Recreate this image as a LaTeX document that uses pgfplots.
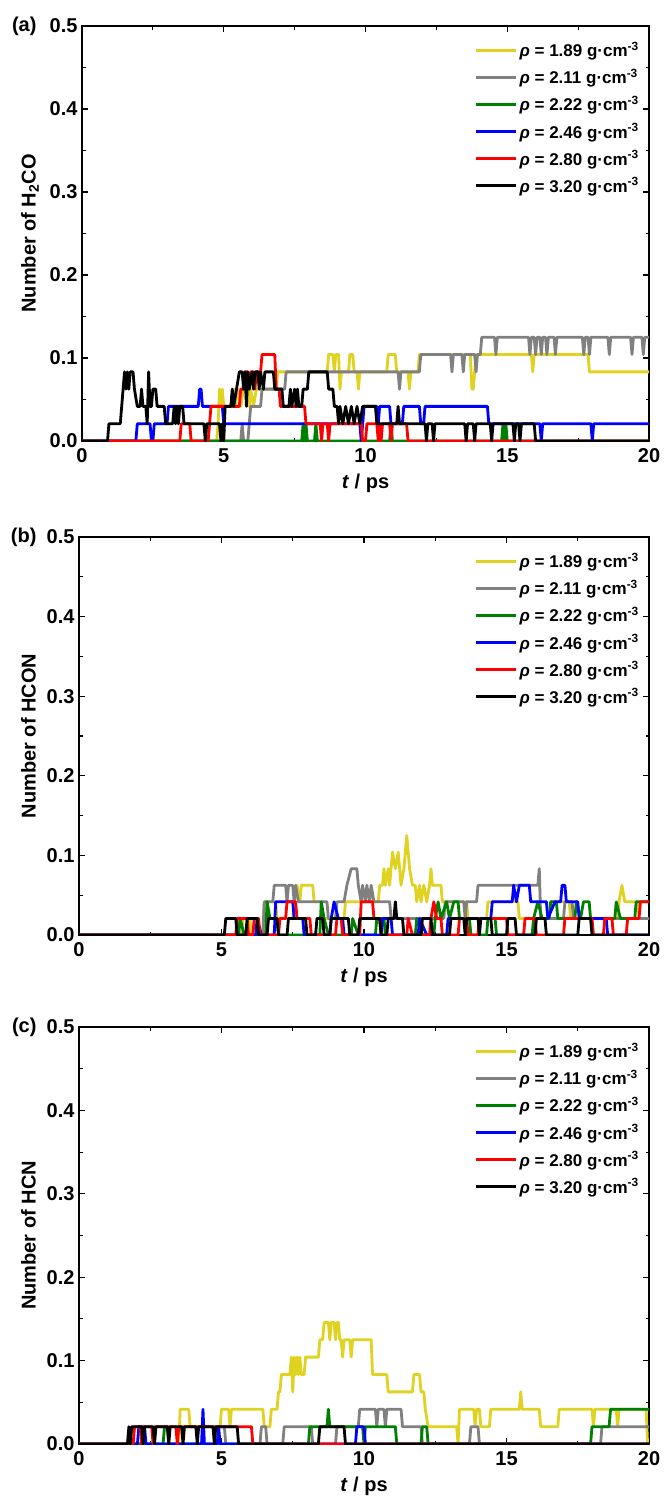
\documentclass[border=0pt]{standalone}
\usepackage{pgfplots}
\pgfplotsset{compat=1.18}
\usepackage{fontspec}
\setmainfont{Liberation Sans}
\definecolor{cyel}{RGB}{224,210,32}
\definecolor{cgray}{RGB}{128,128,128}
\definecolor{cgreen}{RGB}{0,128,0}
\definecolor{cblue}{RGB}{0,0,255}
\definecolor{cred}{RGB}{255,0,0}
\pgfplotsset{
 panel/.style={
  scale only axis, anchor=south west,
  xmin=0,xmax=20,ymin=0,ymax=0.5,
  xtick={0,5,10,15,20}, ytick={0,0.1,0.2,0.3,0.4,0.5},
  minor x tick num=1, minor y tick num=1,
  tick align=inside, major tick length=6pt, minor tick length=3.5pt,
  axis line style={line width=1.1pt},
  tick style={line width=1.1pt, black},
  tick label style={font=\fontsize{20}{22}\selectfont\bfseries, /pgf/number format/assume math mode=true},
  xticklabel style={yshift=-4pt},
  yticklabel style={xshift=-1pt, /pgf/number format/.cd, fixed, fixed zerofill, precision=1},
  label style={font=\fontsize{20}{22}\selectfont\bfseries},
  xlabel={\textit{t} / ps},
  xlabel style={yshift=-4pt},
  ylabel shift=4pt,
  legend cell align=left,
  legend style={at={(1,1)}, anchor=north east, xshift=-8pt, yshift=-14pt, draw=none, fill=none, font=\fontsize{17}{19}\selectfont\bfseries, row sep=7pt, inner sep=0pt},
  legend image code/.code={\draw[#1, line width=3pt] (0pt,0pt) -- (40pt,0pt);},
  every axis plot/.append style={line width=2.8pt, line join=round},
 }
}
\begin{document}
\begin{tikzpicture}
\path[use as bounding box] (0,0) rectangle (664pt,-1504pt);
% ---------------- (a)
\begin{axis}[panel, name=pa, at={(82pt,-441pt)}, width=567pt, height=415pt, ylabel={Number of H\textsubscript{2}CO}]
\addplot[cyel] coordinates {(0,0)(4.75,0)(4.8,0.0208)(4.85,0.0625)(4.9,0.0417)(4.95,0.0625)(5.0,0.0417)(5.3,0.0417)(5.35,0.0625)(5.4,0.0417)(5.5,0.0625)(5.6,0.0417)(5.7,0.0625)(5.85,0.0625)(5.9,0.0417)(5.95,0.0625)(6.05,0.0417)(6.15,0.0625)(6.85,0.0625)(6.9,0.0833)(8.65,0.0833)(8.7,0.1042)(8.85,0.1042)(8.9,0.0833)(8.95,0.1042)(9.05,0.1042)(9.1,0.0625)(9.15,0.0833)(9.4,0.0833)(9.45,0.1042)(9.55,0.1042)(9.6,0.0833)(9.7,0.0833)(9.75,0.0625)(9.8,0.0833)(10.75,0.0833)(10.8,0.1042)(11.05,0.1042)(11.1,0.0833)(11.5,0.0833)(11.55,0.0625)(11.6,0.0833)(11.85,0.0833)(11.9,0.1042)(13.7,0.1042)(13.75,0.0625)(13.8,0.0625)(13.85,0.0833)(13.9,0.1042)(15.85,0.1042)(15.9,0.0833)(15.95,0.1042)(17.85,0.1042)(17.9,0.0833)(20,0.0833)};
\addlegendentry{\textit{ρ} = 1.89 g·cm\textsuperscript{-3}}
\addplot[cgray] coordinates {(0,0)(5.6,0)(5.65,0.0208)(5.7,0)(5.85,0)(5.9,0.0208)(5.95,0.0417)(6.3,0.0417)(6.35,0.0625)(7.15,0.0625)(7.2,0.0833)(11.15,0.0833)(11.2,0.0625)(11.25,0.0833)(11.9,0.0833)(11.95,0.1042)(13.0,0.1042)(13.05,0.0833)(13.1,0.1042)(13.4,0.1042)(13.45,0.0833)(13.5,0.1042)(13.85,0.1042)(13.9,0.0833)(13.95,0.1042)(14.05,0.1042)(14.1,0.125)(14.55,0.125)(14.6,0.1042)(14.65,0.125)(15.75,0.125)(15.8,0.1042)(15.85,0.125)(15.95,0.125)(16.0,0.1042)(16.05,0.125)(16.15,0.125)(16.2,0.1042)(16.25,0.125)(16.35,0.125)(16.4,0.1042)(16.45,0.125)(16.65,0.125)(16.7,0.1042)(16.75,0.125)(17.65,0.125)(17.7,0.1042)(17.75,0.125)(17.85,0.125)(17.9,0.1042)(17.95,0.125)(18.55,0.125)(18.6,0.1042)(18.65,0.125)(19.35,0.125)(19.4,0.1042)(19.45,0.125)(19.75,0.125)(19.8,0.1042)(19.85,0.125)(20,0.125)};
\addlegendentry{\textit{ρ} = 2.11 g·cm\textsuperscript{-3}}
\addplot[cgreen] coordinates {(0,0)(7.75,0)(7.8,0.0208)(7.85,0)(7.9,0.0208)(7.95,0)(8.2,0)(8.25,0.0208)(8.3,0)(10.85,0)(10.9,0.0208)(10.95,0)(14.8,0)(14.85,0.0208)(14.9,0)(14.95,0.0208)(15.0,0)(20,0)};
\addlegendentry{\textit{ρ} = 2.22 g·cm\textsuperscript{-3}}
\addplot[cblue] coordinates {(0,0)(1.9,0)(1.95,0.0208)(2.4,0.0208)(2.45,0)(2.5,0)(2.55,0.0208)(3.0,0.0208)(3.05,0.0417)(4.1,0.0417)(4.15,0.0625)(4.2,0.0625)(4.25,0.0417)(4.95,0.0417)(5.0,0.0208)(9.8,0.0208)(9.85,0)(9.9,0.0208)(9.95,0.0417)(10.4,0.0417)(10.45,0.0208)(10.5,0.0417)(10.85,0.0417)(10.9,0.0208)(11.3,0.0208)(11.35,0.0417)(11.9,0.0417)(11.95,0.0208)(12.05,0.0208)(12.1,0.0417)(14.3,0.0417)(14.35,0.0208)(16.15,0.0208)(16.2,0)(16.25,0.0208)(17.95,0.0208)(18.0,0)(18.05,0.0208)(20,0.0208)};
\addlegendentry{\textit{ρ} = 2.46 g·cm\textsuperscript{-3}}
\addplot[cred] coordinates {(0,0)(3.45,0)(3.5,0.0208)(3.8,0.0208)(3.85,0)(4.45,0)(4.5,0.0208)(4.55,0.0417)(5.55,0.0417)(5.6,0.0625)(5.7,0.0625)(5.75,0.0833)(5.85,0.0833)(5.9,0.0625)(5.95,0.0833)(6.05,0.0833)(6.1,0.0625)(6.15,0.0833)(6.3,0.0833)(6.35,0.1042)(6.8,0.1042)(6.85,0.0625)(6.95,0.0625)(7.0,0.0417)(7.85,0.0417)(7.9,0.0208)(8.4,0.0208)(8.45,0)(8.5,0.0208)(8.65,0.0208)(8.7,0)(8.75,0.0208)(9.85,0.0208)(9.9,0)(10.0,0)(10.05,0.0208)(10.4,0.0208)(10.45,0)(10.5,0.0208)(10.55,0)(10.6,0.0208)(10.85,0.0208)(10.9,0)(10.95,0.0208)(11.45,0.0208)(11.5,0)(20,0)};
\addlegendentry{\textit{ρ} = 2.80 g·cm\textsuperscript{-3}}
\addplot[black] coordinates {(0,0)(0.9,0)(0.95,0.0208)(1.35,0.0208)(1.45,0.0625)(1.5,0.0833)(1.55,0.0625)(1.6,0.0833)(1.65,0.0625)(1.7,0.0833)(1.8,0.0833)(1.85,0.0625)(1.95,0.0417)(2.05,0.0417)(2.1,0.0625)(2.15,0.0417)(2.25,0.0417)(2.3,0.0208)(2.35,0.0833)(2.4,0.0417)(2.45,0.0417)(2.5,0.0625)(2.6,0.0625)(2.65,0.0417)(2.9,0.0417)(2.95,0.0208)(3.2,0.0208)(3.25,0.0417)(3.3,0.0208)(3.35,0.0417)(3.4,0.0208)(3.45,0.0417)(3.55,0.0417)(3.6,0.0208)(4.3,0.0208)(4.35,0)(4.4,0.0208)(4.85,0.0208)(4.9,0)(4.95,0.0208)(5.0,0)(5.05,0.0417)(5.25,0.0417)(5.3,0.0625)(5.35,0.0417)(5.45,0.0625)(5.55,0.0833)(5.65,0.0833)(5.7,0.0625)(5.75,0.0833)(5.8,0.0417)(5.85,0.0833)(5.9,0.0625)(6.0,0.0833)(6.05,0.0625)(6.1,0.0833)(6.2,0.0833)(6.25,0.0625)(6.3,0.0833)(6.4,0.0625)(6.45,0.0833)(6.75,0.0833)(6.8,0.0625)(7.05,0.0625)(7.1,0.0417)(7.3,0.0417)(7.35,0.0625)(7.4,0.0417)(7.5,0.0625)(7.55,0.0417)(7.6,0.0625)(7.65,0.0417)(7.75,0.0417)(7.8,0.0625)(7.95,0.0625)(8.0,0.0833)(8.65,0.0833)(8.7,0.0625)(8.85,0.0625)(8.9,0.0417)(9.0,0.0417)(9.05,0.0208)(9.1,0.0417)(9.2,0.0208)(9.3,0.0417)(9.4,0.0208)(9.5,0.0417)(9.6,0.0208)(9.7,0.0417)(9.8,0.0208)(9.9,0.0417)(10.35,0.0417)(10.4,0.0208)(11.1,0.0208)(11.15,0.0417)(11.2,0.0208)(12.1,0.0208)(12.15,0)(12.2,0.0208)(12.35,0.0208)(12.4,0)(12.45,0.0208)(13.5,0.0208)(13.55,0)(13.6,0.0208)(13.8,0.0208)(13.85,0)(13.9,0.0208)(14.4,0.0208)(14.45,0)(14.5,0.0208)(15.2,0.0208)(15.25,0)(15.3,0.0208)(15.4,0.0208)(15.45,0)(15.5,0.0208)(15.95,0.0208)(16.0,0)(20,0)};
\addlegendentry{\textit{ρ} = 3.20 g·cm\textsuperscript{-3}}
\end{axis}
\node[anchor=east, font=\fontsize{20}{22}\selectfont\bfseries] at ([xshift=-42pt]pa.north west) {(a)};
% ---------------- (b)
\begin{axis}[panel, name=pb, at={(79pt,-935pt)}, width=570pt, height=398pt, ylabel={Number of HCON}]
\addplot[cyel] coordinates {(0,0)(5.7,0)(5.75,0.0208)(6.0,0.0208)(6.05,0)(6.45,0)(6.5,0.0417)(6.9,0.0417)(6.95,0.0208)(7.5,0.0208)(7.55,0.0417)(7.65,0.0625)(7.75,0.0417)(7.8,0.0625)(8.2,0.0625)(8.25,0.0417)(8.5,0.0417)(8.55,0.0208)(9.3,0.0208)(9.35,0.0417)(10.5,0.0417)(10.55,0.0625)(10.65,0.0625)(10.7,0.0833)(10.75,0.0625)(10.85,0.0833)(10.9,0.0625)(11.0,0.1042)(11.1,0.0833)(11.2,0.1042)(11.3,0.0625)(11.4,0.0833)(11.5,0.125)(11.6,0.0833)(11.7,0.0625)(11.8,0.0625)(11.85,0.0417)(11.95,0.0625)(12.0,0.0417)(12.1,0.0625)(12.2,0.0417)(12.3,0.0625)(12.35,0.0833)(12.4,0.0625)(12.7,0.0625)(12.75,0.0417)(13.6,0.0417)(13.65,0.0208)(14.3,0.0208)(14.35,0.0417)(15.4,0.0417)(15.45,0.0208)(16.5,0.0208)(16.55,0.0417)(17.2,0.0417)(17.25,0.0208)(18.9,0.0208)(18.95,0.0417)(19.05,0.0625)(19.15,0.0417)(19.6,0.0417)(19.65,0.0208)(20,0.0208)};
\addlegendentry{\textit{ρ} = 1.89 g·cm\textsuperscript{-3}}
\addplot[cgray] coordinates {(0,0)(6.45,0)(6.5,0.0417)(6.8,0.0417)(6.85,0.0625)(7.25,0.0625)(7.3,0.0417)(7.35,0.0625)(7.5,0.0625)(7.55,0.0417)(7.6,0.0625)(7.7,0.0417)(8.7,0.0417)(8.75,0.0208)(9.0,0.0208)(9.05,0.0417)(9.3,0.0417)(9.4,0.0625)(9.55,0.0833)(9.75,0.0833)(9.8,0.0625)(9.9,0.0417)(9.95,0.0625)(10.05,0.0417)(10.1,0.0625)(10.2,0.0417)(10.25,0.0625)(10.35,0.0417)(10.9,0.0417)(10.95,0.0208)(12.8,0.0208)(12.85,0.0417)(13.5,0.0417)(13.55,0.0208)(13.6,0.0417)(13.95,0.0417)(14.0,0.0625)(16.1,0.0625)(16.15,0.0833)(16.2,0.0208)(17.0,0.0208)(17.05,0.0417)(17.3,0.0417)(17.35,0.0208)(20,0.0208)};
\addlegendentry{\textit{ρ} = 2.11 g·cm\textsuperscript{-3}}
\addplot[cgreen] coordinates {(0,0)(5.6,0)(5.65,0.0208)(5.8,0)(6.55,0)(6.6,0.0417)(6.7,0.0208)(6.95,0.0208)(7.0,0)(8.45,0)(8.5,0.0417)(8.6,0.0208)(8.75,0)(9.55,0)(9.6,0.0208)(9.8,0)(10.4,0)(10.45,0.0208)(10.7,0.0208)(10.75,0)(11.8,0)(11.85,0.0208)(12.05,0)(12.45,0)(12.5,0.0208)(12.6,0.0417)(12.7,0.0208)(12.9,0.0417)(13.0,0.0208)(13.15,0.0417)(13.3,0.0417)(13.35,0.0208)(13.7,0.0208)(13.75,0)(14.3,0)(14.35,0.0208)(14.6,0.0208)(14.65,0)(15.9,0)(15.95,0.0208)(16.1,0.0417)(16.25,0.0208)(16.5,0.0208)(16.55,0.0417)(16.75,0.0417)(16.8,0.0208)(17.4,0.0208)(17.45,0.0417)(17.6,0.0208)(17.7,0.0417)(17.9,0.0417)(17.95,0.0208)(18.8,0.0208)(18.85,0.0417)(19.0,0.0208)(19.5,0.0208)(19.55,0.0417)(20,0.0417)};
\addlegendentry{\textit{ρ} = 2.22 g·cm\textsuperscript{-3}}
\addplot[cblue] coordinates {(0,0)(6.2,0)(6.25,0.0208)(6.4,0)(6.85,0)(6.9,0.0417)(7.5,0.0417)(7.55,0.0208)(7.85,0.0208)(7.9,0)(8.8,0)(8.85,0.0208)(8.95,0.0417)(9.1,0.0208)(9.25,0.0208)(9.3,0)(10.6,0)(10.65,0.0208)(10.95,0.0208)(11.0,0)(11.9,0)(11.95,0.0208)(12.2,0)(12.9,0)(12.95,0.0208)(14.45,0.0208)(14.5,0.0417)(15.2,0.0417)(15.25,0.0625)(15.35,0.0417)(15.45,0.0625)(15.8,0.0625)(15.85,0.0417)(16.4,0.0417)(16.45,0.0208)(16.7,0.0417)(16.9,0.0417)(16.95,0.0625)(17.05,0.0625)(17.1,0.0417)(17.5,0.0417)(17.55,0.0208)(18.5,0.0208)(18.55,0)(20,0)};
\addlegendentry{\textit{ρ} = 2.46 g·cm\textsuperscript{-3}}
\addplot[cred] coordinates {(0,0)(5.5,0)(5.55,0.0208)(5.9,0.0208)(5.95,0)(6.1,0)(6.15,0.0208)(6.3,0.0208)(6.35,0)(7.0,0)(7.05,0.0208)(7.25,0.0208)(7.3,0.0417)(7.6,0.0417)(7.65,0.0208)(8.1,0.0208)(8.15,0)(9.0,0)(9.05,0.0208)(9.2,0.0208)(9.25,0)(9.85,0)(9.9,0.0417)(10.3,0.0417)(10.35,0.0208)(10.55,0.0208)(10.6,0)(11.5,0)(11.55,0.0208)(11.7,0)(12.3,0)(12.35,0.0208)(12.45,0.0417)(12.55,0.0208)(12.7,0.0208)(12.75,0)(13.3,0)(13.35,0.0208)(13.6,0.0208)(13.65,0)(14.0,0)(14.05,0.0208)(15.0,0.0208)(15.05,0)(15.6,0)(15.65,0.0208)(16.0,0.0208)(16.05,0)(17.0,0)(17.05,0.0208)(18.0,0.0208)(18.05,0)(18.4,0)(18.45,0.0208)(18.7,0.0208)(18.75,0)(19.2,0)(19.25,0.0208)(19.65,0.0208)(19.7,0.0417)(20,0.0417)};
\addlegendentry{\textit{ρ} = 2.80 g·cm\textsuperscript{-3}}
\addplot[black] coordinates {(0,0)(5.1,0)(5.15,0.0208)(5.5,0.0208)(5.55,0)(5.85,0)(5.9,0.0208)(6.25,0.0208)(6.3,0)(6.6,0)(6.65,0.0208)(6.95,0.0208)(7.0,0)(7.3,0)(7.35,0.0208)(7.95,0.0208)(8.0,0)(8.3,0)(8.35,0.0208)(8.55,0.0208)(8.6,0)(8.8,0)(8.85,0.0208)(9.45,0.0208)(9.5,0)(9.8,0)(9.85,0.0208)(10.55,0.0208)(10.6,0)(10.8,0)(10.85,0.0208)(11.05,0.0208)(11.1,0.0417)(11.15,0.0208)(11.35,0.0208)(11.4,0)(12.0,0)(12.05,0.0208)(12.35,0.0208)(12.4,0)(13.0,0)(13.05,0.0208)(13.5,0.0208)(13.55,0)(13.6,0.0208)(14.0,0.0208)(14.05,0)(14.1,0.0208)(14.45,0.0208)(14.5,0)(15.0,0)(15.05,0.0208)(15.3,0.0208)(15.35,0)(16.0,0)(16.05,0.0208)(16.35,0.0208)(16.4,0)(17.5,0)(17.55,0.0208)(17.95,0.0208)(18.0,0)(20,0)};
\addlegendentry{\textit{ρ} = 3.20 g·cm\textsuperscript{-3}}
\end{axis}
\node[anchor=east, font=\fontsize{20}{22}\selectfont\bfseries] at ([xshift=-39pt]pb.north west) {(b)};
% ---------------- (c)
\begin{axis}[panel, name=pc, at={(79pt,-1444pt)}, width=570pt, height=417pt, ylabel={Number of HCN}]
\addplot[cyel] coordinates {(0,0)(3.5,0)(3.55,0.0417)(3.85,0.0417)(3.9,0.0208)(4.95,0.0208)(5.0,0.0417)(5.25,0.0417)(5.3,0.0208)(5.35,0.0417)(6.45,0.0417)(6.5,0.0208)(6.7,0.0208)(6.75,0.0417)(6.95,0.0417)(7.0,0.0625)(7.05,0.0625)(7.1,0.0833)(7.4,0.0833)(7.45,0.1042)(7.5,0.0625)(7.55,0.1042)(7.6,0.0833)(7.65,0.1042)(7.7,0.0833)(7.75,0.1042)(7.8,0.0833)(7.9,0.0833)(7.95,0.1042)(8.4,0.1042)(8.45,0.125)(8.55,0.125)(8.6,0.1458)(8.75,0.1458)(8.8,0.125)(8.85,0.1458)(8.95,0.1458)(9.0,0.125)(9.05,0.1458)(9.1,0.1458)(9.15,0.125)(9.2,0.125)(9.25,0.1042)(9.3,0.125)(9.5,0.125)(9.55,0.1042)(9.6,0.125)(10.25,0.125)(10.3,0.0833)(10.8,0.0833)(10.85,0.0625)(11.7,0.0625)(11.75,0.0833)(11.95,0.0833)(12.0,0.0625)(12.1,0.0625)(12.15,0.0417)(12.25,0.0208)(13.25,0.0208)(13.3,0)(13.35,0.0417)(13.85,0.0417)(13.9,0.0208)(13.95,0.0417)(14.05,0.0417)(14.1,0.0208)(14.4,0.0208)(14.45,0.0417)(15.45,0.0417)(15.5,0.0625)(15.55,0.0417)(16.15,0.0417)(16.2,0.0208)(16.8,0.0208)(16.85,0.0417)(18.0,0.0417)(18.05,0.0208)(18.1,0.0417)(18.85,0.0417)(18.9,0.0208)(18.95,0.0417)(19.9,0.0417)(19.95,0)(20,0)};
\addlegendentry{\textit{ρ} = 1.89 g·cm\textsuperscript{-3}}
\addplot[cgray] coordinates {(0,0)(4.85,0)(4.9,0.0208)(5.1,0.0208)(5.15,0)(6.35,0)(6.4,0.0208)(6.55,0.0208)(6.6,0)(7.15,0)(7.2,0.0208)(8.15,0.0208)(8.2,0)(9.0,0)(9.05,0.0208)(9.8,0.0208)(9.85,0.0417)(10.4,0.0417)(10.45,0.0208)(10.5,0.0417)(10.7,0.0417)(10.75,0.0208)(10.8,0.0417)(11.3,0.0417)(11.35,0.0208)(12.0,0.0208)(12.05,0)(13.7,0)(13.75,0.0208)(14.0,0.0208)(14.05,0)(18.3,0)(18.35,0.0208)(20,0.0208)};
\addlegendentry{\textit{ρ} = 2.11 g·cm\textsuperscript{-3}}
\addplot[cgreen] coordinates {(0,0)(2.95,0)(3.0,0.0208)(3.1,0.0208)(3.15,0)(8.05,0)(8.1,0.0208)(8.7,0.0208)(8.75,0.0417)(8.8,0.0208)(9.95,0.0208)(10.0,0)(10.05,0.0208)(11.1,0.0208)(11.15,0)(12.0,0)(12.05,0.0208)(12.2,0.0208)(12.25,0)(17.95,0)(18.0,0.0208)(18.6,0.0208)(18.65,0.0417)(20,0.0417)};
\addlegendentry{\textit{ρ} = 2.22 g·cm\textsuperscript{-3}}
\addplot[cblue] coordinates {(0,0)(2.05,0)(2.1,0.0208)(2.3,0.0208)(2.35,0)(4.3,0)(4.35,0.0417)(4.4,0)(4.85,0)(4.9,0.0208)(4.95,0)(9.7,0)(9.75,0.0208)(10.0,0.0208)(10.05,0)(20,0)};
\addlegendentry{\textit{ρ} = 2.46 g·cm\textsuperscript{-3}}
\addplot[cred] coordinates {(0,0)(1.9,0)(1.95,0.0208)(2.15,0.0208)(2.2,0)(2.25,0.0208)(2.55,0.0208)(2.6,0)(2.65,0.0208)(3.4,0.0208)(3.45,0)(3.5,0.0208)(6.05,0.0208)(6.1,0)(20,0)};
\addlegendentry{\textit{ρ} = 2.80 g·cm\textsuperscript{-3}}
\addplot[black] coordinates {(0,0)(1.7,0)(1.75,0.0208)(1.8,0)(1.85,0.0208)(2.2,0.0208)(2.25,0)(2.3,0.0208)(2.6,0.0208)(2.65,0)(2.7,0.0208)(3.1,0.0208)(3.15,0)(3.2,0.0208)(3.6,0.0208)(3.65,0)(3.7,0.0208)(4.1,0.0208)(4.15,0)(4.2,0.0208)(4.7,0.0208)(4.75,0)(4.8,0.0208)(5.55,0.0208)(5.6,0)(8.4,0)(8.45,0.0208)(9.3,0.0208)(9.35,0)(20,0)};
\addlegendentry{\textit{ρ} = 3.20 g·cm\textsuperscript{-3}}
\end{axis}
\node[anchor=east, font=\fontsize{20}{22}\selectfont\bfseries] at ([xshift=-39pt]pc.north west) {(c)};
\end{tikzpicture}
\end{document}
